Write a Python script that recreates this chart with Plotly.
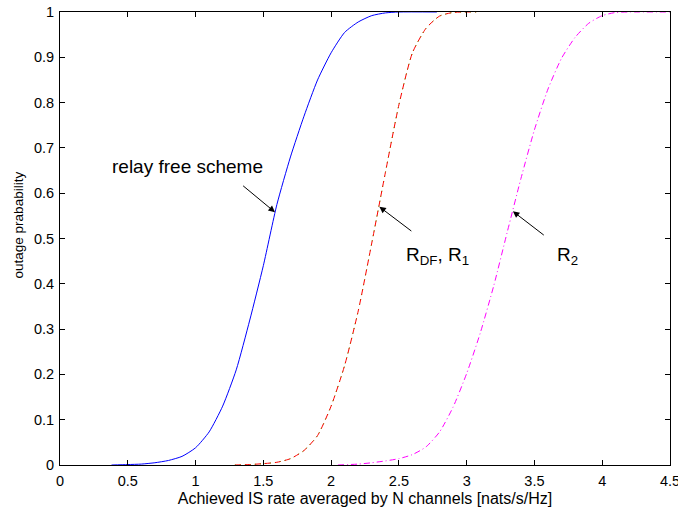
import plotly.graph_objects as go

# Achieved rate (nats/s/Hz) vs. outage probability
x_free = [0.38, 0.5, 0.6, 0.7, 0.8, 0.9, 1.0, 1.1, 1.2, 1.3, 1.4, 1.5, 1.6, 1.7,
          1.8, 1.9, 2.0, 2.1, 2.2, 2.3, 2.4, 2.5, 2.78]
y_free = [0.0, 0.001, 0.002, 0.005, 0.01, 0.019, 0.038, 0.073, 0.13, 0.21, 0.32,
          0.44, 0.575, 0.68, 0.77, 0.85, 0.91, 0.955, 0.978, 0.992, 0.998, 1.0, 1.0]

x_df = [1.29, 1.4, 1.5, 1.6, 1.7, 1.8, 1.9, 2.0, 2.1, 2.2, 2.3, 2.4, 2.5, 2.6,
        2.7, 2.8, 2.9, 3.07]
y_df = [0.0, 0.001, 0.003, 0.006, 0.014, 0.032, 0.065, 0.13, 0.22, 0.34, 0.49,
        0.645, 0.795, 0.91, 0.964, 0.991, 0.999, 1.0]

# R1 coincides with R_DF
x_r1 = list(x_df)
y_r1 = list(y_df)

x_r2 = [2.05, 2.2, 2.3, 2.4, 2.5, 2.6, 2.7, 2.8, 2.9, 3.0, 3.1, 3.2, 3.3, 3.4,
        3.5, 3.6, 3.7, 3.8, 3.9, 4.0, 4.1, 4.2, 4.5]
y_r2 = [0.0, 0.002, 0.005, 0.009, 0.014, 0.023, 0.04, 0.073, 0.128, 0.202, 0.291,
        0.396, 0.515, 0.632, 0.74, 0.83, 0.898, 0.944, 0.975, 0.992, 0.999, 1.0, 1.0]

x_ticks = [0, 0.5, 1, 1.5, 2, 2.5, 3, 3.5, 4, 4.5]
y_ticks = [0, 0.1, 0.2, 0.3, 0.4, 0.5, 0.6, 0.7, 0.8, 0.9, 1]

FONT = "Liberation Sans, Arial, Helvetica, sans-serif"
SMOOTH = dict(shape="spline", smoothing=0.6)

fig = go.Figure()
fig.add_trace(go.Scatter(x=x_free, y=y_free, mode="lines", name="relay free",
                         line=dict(color="#0000FF", width=1, **SMOOTH)))
fig.add_trace(go.Scatter(x=x_r1, y=y_r1, mode="lines", name="R1",
                         line=dict(color="#00FF00", width=1, dash="1px,4px", **SMOOTH)))
fig.add_trace(go.Scatter(x=x_df, y=y_df, mode="lines", name="RDF",
                         line=dict(color="#FF0000", width=1, dash="6px,4px", **SMOOTH)))
fig.add_trace(go.Scatter(x=x_r2, y=y_r2, mode="lines", name="R2",
                         line=dict(color="#FF00FF", width=1, dash="6px,3px,1px,3px",
                                   **SMOOTH)))

arrow = dict(showarrow=True, arrowhead=2, arrowsize=1.3, arrowwidth=1,
             arrowcolor="black", axref="x", ayref="y", text="")
fig.add_annotation(x=1.586, y=0.558, ax=1.340, ay=0.619, **arrow)
fig.add_annotation(x=2.356, y=0.570, ax=2.603, ay=0.514, **arrow)
fig.add_annotation(x=3.341, y=0.560, ax=3.580, ay=0.505, **arrow)

label = dict(showarrow=False, xanchor="left", yanchor="middle",
             font=dict(family=FONT, size=19, color="black"))
fig.add_annotation(x=0.368, y=0.660, text="relay free scheme", **label)
fig.add_annotation(x=2.538, y=0.462, text="R<sub>DF</sub>, R<sub>1</sub>", **label)
fig.add_annotation(x=3.654, y=0.462, text="R<sub>2</sub>", **label)

# y-axis title
fig.add_annotation(xref="paper", yref="paper", x=-0.068, y=0.53,
                   text="outage prabability", textangle=-90, showarrow=False,
                   xanchor="center", yanchor="middle",
                   font=dict(family=FONT, size=13.5, color="black"))

axis_common = dict(showgrid=False, zeroline=False, showline=True, linecolor="black",
                   linewidth=1, mirror="ticks", ticks="inside", ticklen=5,
                   automargin=False, tickcolor="black",
                   tickfont=dict(family=FONT, size=14.5, color="black"))

fig.update_layout(
    width=678, height=508,
    margin=dict(l=60, r=8, t=12, b=43),
    paper_bgcolor="white", plot_bgcolor="white",
    showlegend=False,
    xaxis=dict(range=[0, 4.5], tickvals=x_ticks,
               ticktext=[f"{v:g}" for v in x_ticks],
               ticklabeloverflow="allow", ticklabelstandoff=3,
               title=dict(text="Achieved IS rate averaged by N channels [nats/s/Hz]",
                          font=dict(family=FONT, size=16, color="black"), standoff=4),
               **axis_common),
    yaxis=dict(range=[0, 1], tickvals=y_ticks,
               ticktext=[f"{v:g}" for v in y_ticks], ticklabelstandoff=2,
               **axis_common),
)

fig.write_html("out.html")
